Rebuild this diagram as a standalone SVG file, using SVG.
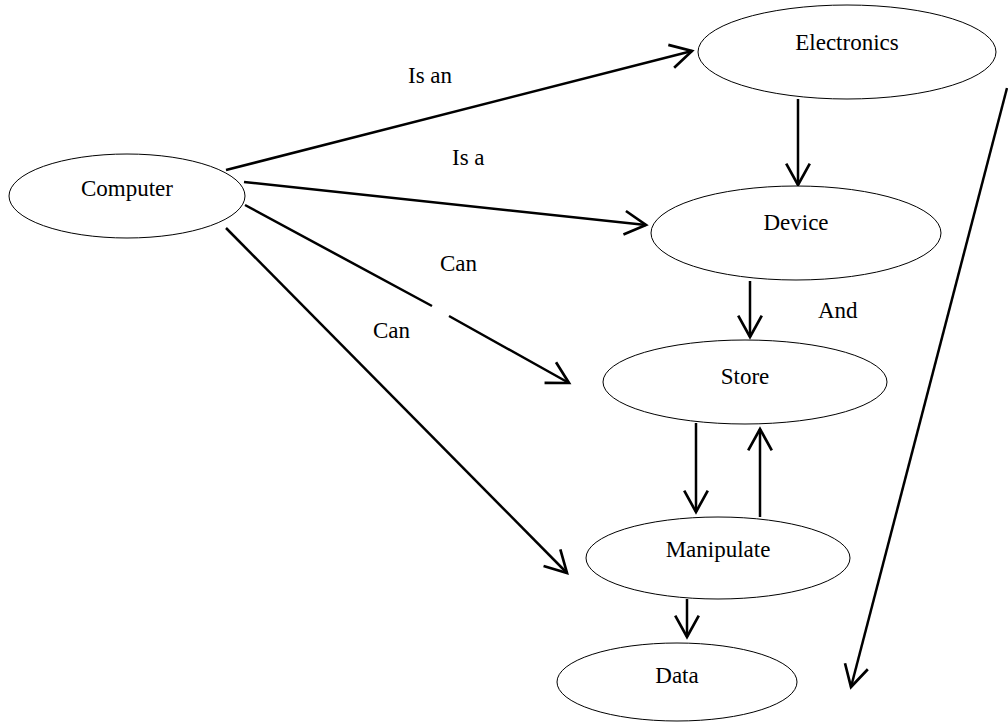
<svg xmlns="http://www.w3.org/2000/svg" width="1008" height="724" viewBox="0 0 1008 724" font-family="'Liberation Serif', 'DejaVu Serif', serif">
<style>
  .node ellipse { fill: #fff; stroke: #000; stroke-width: 1; }
  text { font-family: "Liberation Serif", "DejaVu Serif", serif; font-size: 23px; fill: #000; }
  .c { text-anchor: middle; }
  .edge { fill: none; stroke: #000; stroke-width: 2.5; marker-end: url(#arr); }
</style>
<defs>
  <marker id="arr" markerUnits="userSpaceOnUse" markerWidth="30" markerHeight="30" viewBox="-24 -13 28 26" refX="0" refY="0" orient="auto">
    <path d="M-20,-11 L0,0 L-20,11" fill="none" stroke="#000" stroke-width="2.5"/>
  </marker>
</defs>
<rect width="1008" height="724" fill="#fff"/>
<g id="connectors">
  <path class="edge" d="M226,170 L692,51"/>
  <path class="edge" d="M244,182 L646,225"/>
  <path class="edge" d="M245,205 L432,306 M449,316 L569,383"/>
  <path class="edge" d="M226,228 L567,573"/>
  <path class="edge" d="M798,99 L798,185"/>
  <path class="edge" d="M750,281 L750,337"/>
  <path class="edge" d="M696,423 L696,512"/>
  <path class="edge" d="M760,517 L760,429"/>
  <path class="edge" d="M687,599 L687,637"/>
  <path class="edge" d="M1007,88 L851,687"/>
</g>
<g id="labels">
  <text x="408" y="83">Is an</text>
  <text x="452" y="165">Is a</text>
  <text x="440" y="271">Can</text>
  <text x="373" y="338">Can</text>
  <text x="818" y="318">And</text>
</g>
<g id="computer" class="node">
  <ellipse cx="127" cy="196" rx="118" ry="42"/>
  <text class="c" x="127" y="196">Computer</text>
</g>
<g id="electronics" class="node">
  <ellipse cx="847" cy="52" rx="149" ry="47"/>
  <text class="c" x="847" y="50">Electronics</text>
</g>
<g id="device" class="node">
  <ellipse cx="796" cy="233" rx="145" ry="47"/>
  <text class="c" x="796" y="230">Device</text>
</g>
<g id="store" class="node">
  <ellipse cx="745" cy="382" rx="142" ry="42"/>
  <text class="c" x="745" y="384">Store</text>
</g>
<g id="manipulate" class="node">
  <ellipse cx="718" cy="558" rx="132" ry="41"/>
  <text class="c" x="718" y="557">Manipulate</text>
</g>
<g id="data" class="node">
  <ellipse cx="677" cy="682" rx="120" ry="39"/>
  <text class="c" x="677" y="683">Data</text>
</g>
</svg>
